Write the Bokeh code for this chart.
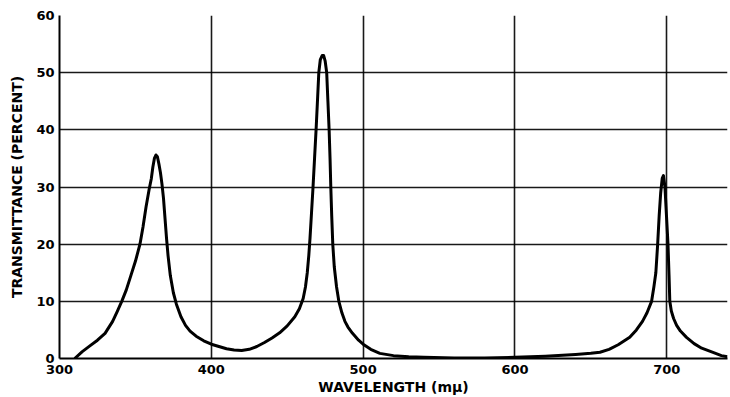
from bokeh.plotting import figure
from bokeh.models import Range1d, FixedTicker
from bokeh.embed import file_html
from bokeh.resources import INLINE

wavelength = [310, 315, 320, 325, 330, 335, 338, 341, 344, 347, 350, 352, 353, 355, 357,
              359, 360.5, 361.5, 362.5, 363.5, 364.5, 365.5, 366.5, 367.5, 368.5, 369.5,
              370.5, 371.5, 373, 375, 377, 380, 383, 386, 390, 395, 400, 405, 410,
              415, 420, 425, 430, 435, 440, 445, 450, 455, 458, 460.5, 462, 463.2, 464.2,
              465, 466, 467, 468, 469, 470, 470.8, 471.8, 473, 474, 475, 476, 476.8, 477.6,
              478.2, 478.7, 479.3, 480, 481, 482.5, 484, 486, 488, 490, 493, 497, 500,
              505, 511, 520, 530, 540, 560, 580, 600, 620, 640, 650, 656, 662, 668,
              675.6, 680, 684, 687, 690, 691.5, 692.8, 694, 695, 696, 697, 697.8, 698.8,
              699.8, 700.8, 701.5, 702, 703, 704.5, 706.5, 709, 713, 718, 723, 730, 736, 740]
transmittance = [0, 1.2, 2.2, 3.2, 4.4, 6.5, 8.2, 10, 12, 14.5, 17, 19, 20, 23, 26.5,
                 29.5, 31.5, 33.5, 35, 35.6, 35.3, 34, 32.5, 30.5, 28, 24.5,
                 21, 18, 14.5, 11.5, 9.5, 7.3, 5.8, 4.8, 3.9, 3.1, 2.5, 2.1, 1.7,
                 1.5, 1.4, 1.6, 2.1, 2.8, 3.6, 4.5, 5.7, 7.3, 8.7, 10.5, 12.5, 15, 18,
                 21, 25.5, 30, 35, 40, 45.5, 50, 52.3, 53, 53, 52, 50, 45, 40,
                 35, 30, 25, 20, 16, 12.5, 10, 8, 6.5, 5.5, 4.4, 3.2, 2.5,
                 1.6, 0.9, 0.5, 0.3, 0.2, 0.1, 0.1, 0.2, 0.4, 0.7, 0.9, 1.1, 1.6, 2.4,
                 3.7, 5, 6.5, 8, 10, 12.5, 15, 20, 25, 29, 31.5, 32, 30,
                 25, 20, 14.5, 10, 8.3, 7, 5.8, 4.8, 3.7, 2.6, 1.8, 1.1, 0.5, 0.3]

x_ticks = [300, 400, 500, 600, 700]
y_ticks = [0, 10, 20, 30, 40, 50, 60]

p = figure(width=730, height=397, output_backend="svg", toolbar_location=None,
           x_range=Range1d(300, 740), y_range=Range1d(0, 60),
           min_border_left=59, min_border_right=3, min_border_top=15, min_border_bottom=39)
p.background_fill_color = "white"
p.border_fill_color = "white"
p.outline_line_color = None

p.xaxis.ticker = FixedTicker(ticks=x_ticks)
p.yaxis.ticker = FixedTicker(ticks=y_ticks)

for ax in (p.xaxis, p.yaxis):
    ax.axis_line_color = "black"
    ax.axis_line_width = 2
    ax.major_tick_line_color = None
    ax.minor_tick_line_color = None
    ax.major_tick_out = 0
    ax.major_tick_in = 0
    ax.major_label_text_font = "DejaVu Sans"
    ax.major_label_text_font_style = "bold"
    ax.major_label_text_font_size = "13px"
    ax.major_label_text_color = "black"
    ax.axis_label_text_font = "DejaVu Sans"
    ax.axis_label_text_font_style = "bold"
    ax.axis_label_text_color = "black"

p.xaxis.major_label_standoff = 6
p.yaxis.major_label_standoff = 5
p.xaxis.axis_label = "WAVELENGTH (mμ)"
p.xaxis.axis_label_text_font_size = "14px"
p.xaxis.axis_label_standoff = 2
p.yaxis.axis_label = "TRANSMITTANCE (PERCENT)"
p.yaxis.axis_label_text_font_size = "14px"
p.yaxis.axis_label_standoff = 8

p.xgrid.ticker = FixedTicker(ticks=x_ticks)
p.ygrid.ticker = FixedTicker(ticks=y_ticks)
for g in (p.xgrid, p.ygrid):
    g.grid_line_color = "black"
    g.grid_line_width = 1.6
    g.grid_line_alpha = 0.9

p.line(wavelength, transmittance, line_color="black", line_width=3, line_join="round")

open("out.html", "w").write(file_html(p, INLINE))
